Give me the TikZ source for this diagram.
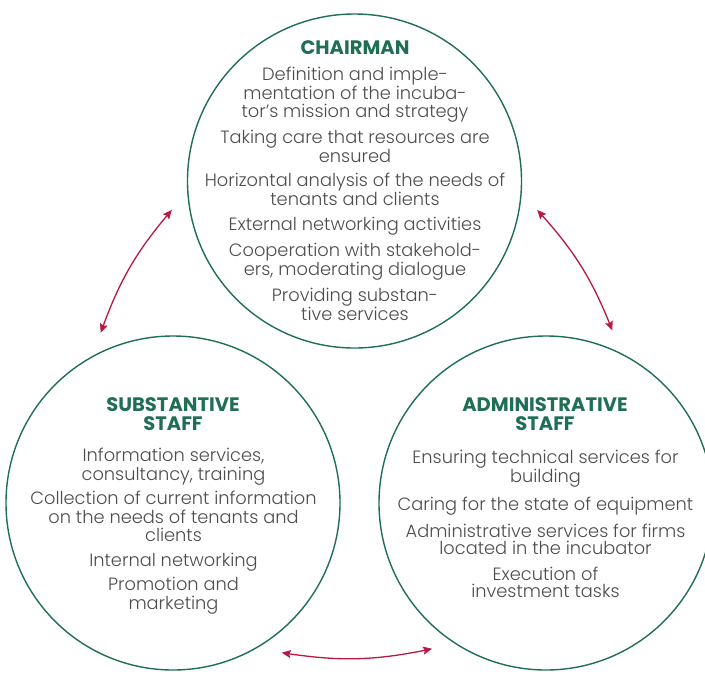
\documentclass[tikz,border=0pt]{standalone}
\usepackage{fontspec}
\setmainfont{Poppins}[UprightFont=* Light, BoldFont=* Bold]
\usetikzlibrary{arrows.meta}
\definecolor{incgreen}{RGB}{31,110,85}
\definecolor{incred}{RGB}{184,24,66}
\definecolor{incgray}{RGB}{77,77,77}
\tikzset{
  unit/.style={circle, draw=incgreen, line width=1.4pt, minimum size=334pt,
      inner sep=0pt, outer sep=18pt},
  head/.style={font=\fontsize{19.5}{19}\selectfont\bfseries, text=incgreen, align=center},
  duty/.style={font=\fontsize{17.8}{17.5}\selectfont, text=incgray, align=center},
  link/.style={{Stealth[length=9pt,width=8pt,inset=1.5pt]}-{Stealth[length=9pt,width=8pt,inset=1.5pt]},
      incred, line width=1.3pt},
}
\begin{document}
\begin{tikzpicture}[x=1pt, y=-1pt]
  \useasboundingbox (0,0) rectangle (705,673);
  \clip (0,0) rectangle (705,673);
  % the three units
  \node[unit] (chair) at (354.5,181) {};
  \node[unit] (subst) at (173,503) {};
  \node[unit] (admin) at (546,503) {};
  % chairman
  \node[head] (chairhead) at (355,48) {CHAIRMAN};
  \node[duty] (chairduty) at (355,194) {Definition and imple-\\mentation of the incuba-\\tor’s mission and strategy\\[7pt]
    Taking care that resources are\\ensured\\[7pt]
    Horizontal analysis of the needs of\\tenants and clients\\[7pt]
    External networking activities\\[7pt]
    Cooperation with stakehold-\\ers, moderating dialogue\\[7pt]
    Providing substan-\\tive services};
  % substantive staff
  \node[head] (substhead) at (173,414) {SUBSTANTIVE\\STAFF};
  \node[duty, font=\fontsize{17.8}{18.5}\selectfont] (substduty) at (173.5,531) {Information services,\\consultancy, training\\[6pt]
    Collection of current information\\on the needs of tenants and\\clients\\[6pt]
    Internal networking\\[6pt]
    Promotion and\\marketing};
  % administrative staff
  \node[head] (adminhead) at (545,414) {ADMINISTRATIVE\\STAFF};
  \node[duty] (adminduty) at (545.5,524) {Ensuring technical services for\\building\\[8pt]
    Caring for the state of equipment\\[8pt]
    Administrative services for firms\\located in the incubator\\[8pt]
    Execution of\\investment tasks};
  % links between the units
  \draw[link] (subst.113) to[bend left=10] (chair.189);
  \draw[link] (chair.351) to[bend left=10] (admin.69);
  \draw[link] (subst.-54) to[bend right=10] (admin.232);
\end{tikzpicture}
\end{document}
